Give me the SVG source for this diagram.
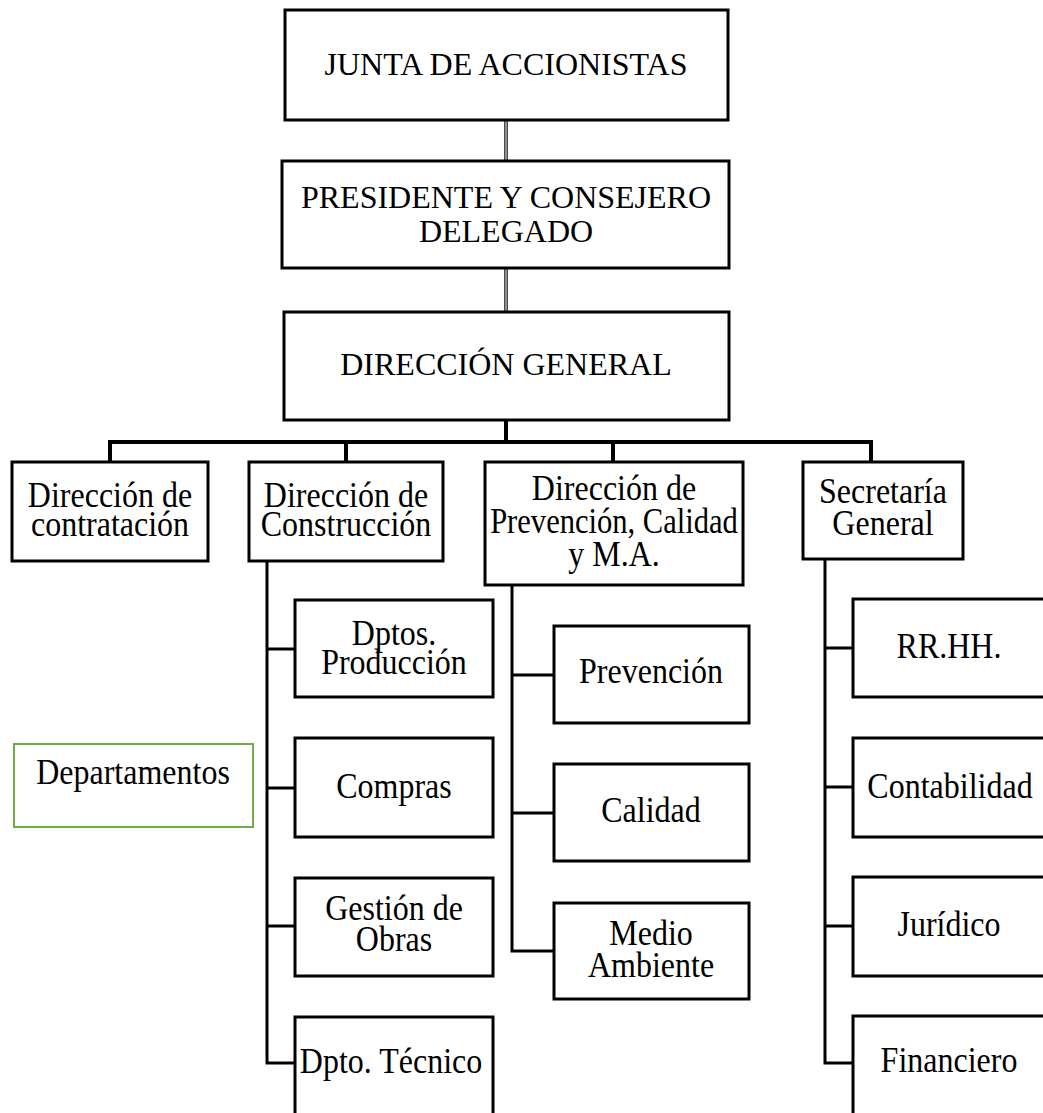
<svg xmlns="http://www.w3.org/2000/svg" width="1043" height="1113" viewBox="0 0 1043 1113">
  <style>
    .box { fill: #ffffff; stroke: #000000; stroke-width: 3; }
    .note { fill: #ffffff; stroke: #70ad47; stroke-width: 2; }
    .lbl { font-family: "Liberation Serif", "Times New Roman", serif; font-size: 32px; fill: #000000; text-anchor: middle; }
    .wire { fill: none; stroke: #000000; stroke-width: 3; }
    .bus { fill: none; stroke: #000000; stroke-width: 4; }
    .trunk { fill: none; stroke: #4a4a4a; stroke-width: 4; }
    .trunk-core { fill: none; stroke: #a0a0a0; stroke-width: 1.6; }
  </style>
  <rect width="1043" height="1113" fill="#ffffff"/>

  <!-- connectors -->
  <g id="connectors">
    <!-- executive chain -->
    <line class="trunk" x1="506" y1="120" x2="506" y2="161"/>
    <line class="trunk-core" x1="506" y1="120" x2="506" y2="161"/>
    <line class="trunk" x1="506" y1="268" x2="506" y2="312"/>
    <line class="trunk-core" x1="506" y1="268" x2="506" y2="312"/>
    <!-- general direction to directorates -->
    <polyline class="bus" points="506,420 506,442"/>
    <polyline class="bus" points="110,462 110,442 871,442 871,462"/>
    <line class="bus" x1="346" y1="442" x2="346" y2="462"/>
    <line class="bus" x1="613" y1="442" x2="613" y2="462"/>
    <!-- construction departments -->
    <polyline class="wire" points="267,561 267,1063 295,1063"/>
    <line class="wire" x1="267" y1="649" x2="295" y2="649"/>
    <line class="wire" x1="267" y1="788" x2="295" y2="788"/>
    <line class="wire" x1="267" y1="926" x2="295" y2="926"/>
    <!-- prevention, quality and environment -->
    <polyline class="wire" points="512,585 512,951 554,951"/>
    <line class="wire" x1="512" y1="675" x2="554" y2="675"/>
    <line class="wire" x1="512" y1="813" x2="554" y2="813"/>
    <!-- general secretariat -->
    <polyline class="wire" points="825,559 825,1063 853,1063"/>
    <line class="wire" x1="825" y1="648" x2="853" y2="648"/>
    <line class="wire" x1="825" y1="787" x2="853" y2="787"/>
    <line class="wire" x1="825" y1="926" x2="853" y2="926"/>
  </g>

  <!-- executive level -->
  <g id="junta">
    <rect class="box" x="285" y="10" width="443" height="110"/>
    <text class="lbl" x="506" y="75">JUNTA DE ACCIONISTAS</text>
  </g>
  <g id="presidente">
    <rect class="box" x="282" y="161" width="447" height="107"/>
    <text class="lbl" x="506" y="208">PRESIDENTE Y CONSEJERO</text>
    <text class="lbl" x="506" y="242">DELEGADO</text>
  </g>
  <g id="direccion-general">
    <rect class="box" x="284" y="312" width="445" height="108"/>
    <text class="lbl" x="506" y="375">DIRECCIÓN GENERAL</text>
  </g>

  <!-- directorates (labels slightly tall, scaled about their baseline) -->
  <g id="dir-contratacion">
    <rect class="box" x="12" y="462" width="196" height="99"/>
    <text class="lbl" transform="translate(110 507) scale(1 1.12)">Dirección de</text>
    <text class="lbl" transform="translate(110 536) scale(1 1.12)">contratación</text>
  </g>
  <g id="dir-construccion">
    <rect class="box" x="249" y="462" width="194" height="99"/>
    <text class="lbl" transform="translate(346 507) scale(1 1.12)">Dirección de</text>
    <text class="lbl" transform="translate(346 536) scale(1 1.12)">Construcción</text>
  </g>
  <g id="dir-prevencion">
    <rect class="box" x="485" y="462" width="258" height="123"/>
    <text class="lbl" transform="translate(614 500) scale(1 1.12)">Dirección de</text>
    <text class="lbl" transform="translate(614 533) scale(0.955 1.12)">Prevención, Calidad</text>
    <text class="lbl" transform="translate(614 566) scale(1 1.12)">y M.A.</text>
  </g>
  <g id="secretaria">
    <rect class="box" x="803" y="462" width="160" height="97"/>
    <text class="lbl" transform="translate(883 503) scale(1 1.12)">Secretaría</text>
    <text class="lbl" transform="translate(883 535) scale(1 1.12)">General</text>
  </g>

  <!-- construction departments -->
  <g id="dptos-produccion">
    <rect class="box" x="295" y="600" width="198" height="97"/>
    <text class="lbl" transform="translate(394 645) scale(1 1.12)">Dptos.</text>
    <text class="lbl" transform="translate(394 674) scale(1 1.12)">Producción</text>
  </g>
  <g id="compras">
    <rect class="box" x="295" y="738" width="198" height="99"/>
    <text class="lbl" transform="translate(394 798) scale(1 1.12)">Compras</text>
  </g>
  <g id="gestion-obras">
    <rect class="box" x="295" y="878" width="198" height="98"/>
    <text class="lbl" transform="translate(394 920) scale(1 1.12)">Gestión de</text>
    <text class="lbl" transform="translate(394 951) scale(1 1.12)">Obras</text>
  </g>
  <g id="dpto-tecnico">
    <rect class="box" x="295" y="1017" width="198" height="100"/>
    <text class="lbl" transform="translate(391 1073) scale(1 1.12)">Dpto. Técnico</text>
  </g>

  <!-- prevention, quality and environment units -->
  <g id="prevencion">
    <rect class="box" x="554" y="626" width="195" height="97"/>
    <text class="lbl" transform="translate(651 683) scale(1 1.12)">Prevención</text>
  </g>
  <g id="calidad">
    <rect class="box" x="554" y="764" width="195" height="97"/>
    <text class="lbl" transform="translate(651 822) scale(1 1.12)">Calidad</text>
  </g>
  <g id="medio-ambiente">
    <rect class="box" x="554" y="903" width="195" height="96"/>
    <text class="lbl" transform="translate(651 945) scale(1 1.12)">Medio</text>
    <text class="lbl" transform="translate(651 977) scale(1 1.12)">Ambiente</text>
  </g>

  <!-- secretariat units -->
  <g id="rrhh">
    <rect class="box" x="853" y="599" width="195" height="98"/>
    <text class="lbl" transform="translate(949 658) scale(1 1.12)">RR.HH.</text>
  </g>
  <g id="contabilidad">
    <rect class="box" x="853" y="738" width="195" height="99"/>
    <text class="lbl" transform="translate(950 798) scale(1 1.12)">Contabilidad</text>
  </g>
  <g id="juridico">
    <rect class="box" x="853" y="877" width="195" height="99"/>
    <text class="lbl" transform="translate(949 936) scale(1 1.12)">Jurídico</text>
  </g>
  <g id="financiero">
    <rect class="box" x="853" y="1016" width="195" height="100"/>
    <text class="lbl" transform="translate(949 1072) scale(1 1.12)">Financiero</text>
  </g>

  <!-- legend -->
  <g id="departamentos">
    <rect class="note" x="14" y="744" width="239" height="83"/>
    <text class="lbl" transform="translate(133 784) scale(1 1.12)">Departamentos</text>
  </g>
</svg>
